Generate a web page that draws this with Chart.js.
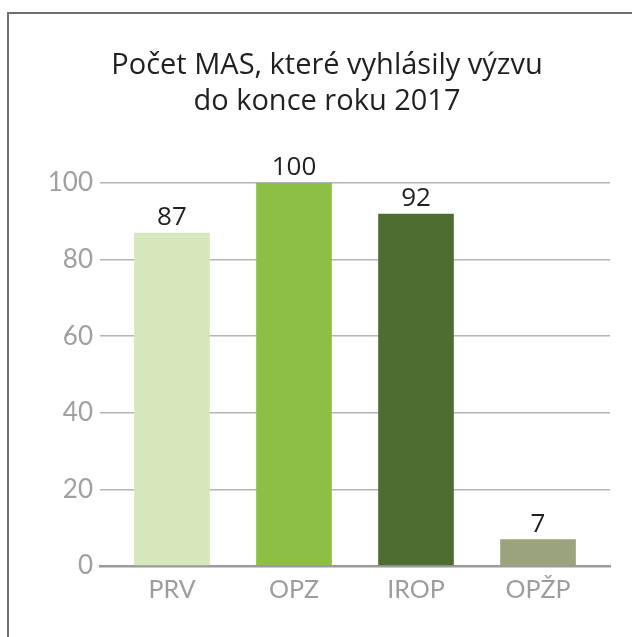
<!DOCTYPE html>
<html>
<head>
<meta charset="utf-8">
<script src="https://cdn.jsdelivr.net/npm/chart.js@4.4.0/dist/chart.umd.min.js"></script>
<style>
  body { margin: 0; background: #fff; overflow: hidden; }
  #frame { position: absolute; left: 7px; top: 12px; width: 800px; height: 800px; border: 2px solid #707070; }
  #mycanvas { position: absolute; left: 0; top: 0; }
</style>
</head>
<body>
<div id="frame"></div>
<canvas id="mycanvas" width="632" height="637"></canvas>
<script>
var titleLines = ["Počet MAS, které vyhlásily výzvu", "do konce roku 2017"];
var categories = ["PRV", "OPZ", "IROP", "OPŽP"];
var counts = [87, 100, 92, 7];
var barColors = ["#d5e7bb", "#8dbf45", "#4e6e31", "#9aa37c"];

var points = [];
for (var i in counts) {
  points.push({ x: Number(i), y: counts[i] });
}

// value labels above the bars
var valueLabels = {
  id: "valueLabels",
  afterDatasetsDraw: function(chart) {
    var ctx = chart.ctx;
    var meta = chart.getDatasetMeta(0);
    ctx.save();
    ctx.font = "26px 'Open Sans'";
    ctx.fillStyle = "#231f20";
    ctx.textAlign = "center";
    ctx.textBaseline = "bottom";
    meta.data.forEach(function(bar, i) {
      ctx.fillText(String(counts[i]), bar.x, bar.y - 2);
    });
    ctx.restore();
  }
};

var ctx = document.getElementById("mycanvas");
var chart = new Chart(ctx, {
  type: "bar",
  data: {
    datasets: [{
      data: points,
      backgroundColor: barColors,
      borderWidth: 0,
      barPercentage: 0.62,
      categoryPercentage: 1
    }]
  },
  options: {
    responsive: false,
    animation: false,
    layout: { padding: { left: 44, right: 22, top: 0, bottom: 0 } },
    plugins: {
      legend: { display: false },
      tooltip: { enabled: false },
      title: {
        display: true,
        text: titleLines,
        color: "#231f20",
        font: { family: "'Open Sans'", size: 29, weight: "normal", lineHeight: 36 / 29 },
        padding: { top: 48, bottom: 63 }
      }
    },
    scales: {
      x: {
        type: "linear",
        offset: false,
        min: -0.59,
        max: 3.59,
        afterBuildTicks: function(scale) {
          scale.ticks = categories.map(function(c, i) { return { value: i }; });
        },
        afterFit: function(scale) { scale.height = 71; },
        grid: { display: false, drawTicks: false, offset: false },
        border: { display: true, color: "#9a9a9a", width: 2.5 },
        ticks: {
          padding: 9,
          color: "#9d9d9d",
          font: { family: "Lato", size: 25 },
          callback: function(v) { return categories[v]; }
        }
      },
      y: {
        min: 0,
        max: 100,
        afterFit: function(scale) { scale.width = 56; },
        grid: { color: "#b4b4b4", lineWidth: 1.5, drawTicks: false },
        border: { display: false },
        ticks: {
          stepSize: 20,
          padding: 7,
          color: "#a0a0a0",
          font: { family: "Lato", size: 26 }
        }
      }
    }
  },
  plugins: [valueLabels]
});
</script>
</body>
</html>
